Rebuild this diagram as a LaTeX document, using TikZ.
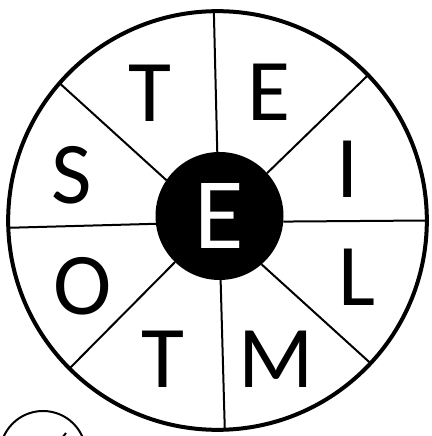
\documentclass[tikz,border=0pt]{standalone}
\usepackage{fontspec}
\setmainfont{Carlito}
\usetikzlibrary{positioning}

\begin{document}
\begin{tikzpicture}[
    x=0.75pt, y=0.75pt,
    %% -- Wheel parts ----------------------------------------------------------
    %%
    %% rim: the big outer ring, hub: the black disc in the middle.
    rim/.style={
        draw, circle,
        line width=3pt,
        minimum size=314pt,
        inner sep=0pt, outer sep=0pt,
    },
    hub/.style={
        fill=black, circle,
        minimum size=96pt,
        inner sep=0pt, outer sep=0pt,
        text=white,
        font=\fontsize{76}{76}\selectfont,
    },
    %% -- Spokes and letters ---------------------------------------------------
    spoke/.style={line width=1.5pt},
    letter/.style={inner sep=0pt, font=\fontsize{66}{66}\selectfont},
    badge/.style={line width=1.5pt},
]

\clip (0,0) rectangle (432,436);

%% -- Place nodes here -----------------------------------------------------

\node[rim] (rim) at (217.5,215.5) {};
\node[hub] (hub) at (219.5,220)   {E};

\node[letter] (topT)   at (150,343) {T};
\node[letter] (topE)   at (269,344) {E};
\node[letter] (rightI) at (348,267) {I};
\node[letter] (rightL) at (357,159) {L};
\node[letter] (botM)   at (276,77)  {M};
\node[letter] (botT)   at (163,77)  {T};
\node[letter] (leftO)  at (83,150)  {O};
\node[letter] (leftS)  at (72,261)  {S};

%% -- Draw spokes here -----------------------------------------------------

%% hub angle / rim angle, the wheel is drawn a little askew
\foreach \a/\b in {92.3/91.2, 42.8/44.6, -5.4/0.4, -49.6/-43.1,
                   -89.5/-88.0, -134.1/-135.4, 187.2/182.1, 146.1/139.3}
    \draw[spoke] (hub.\a) -- (rim.\b);

% cut-off ring in the corner
\coordinate (badgeC) at (43,-18);
\draw[badge] (badgeC) circle[radius=43];
\draw[badge] (62,-2) -- (66,3);

\end{tikzpicture}
\end{document}
